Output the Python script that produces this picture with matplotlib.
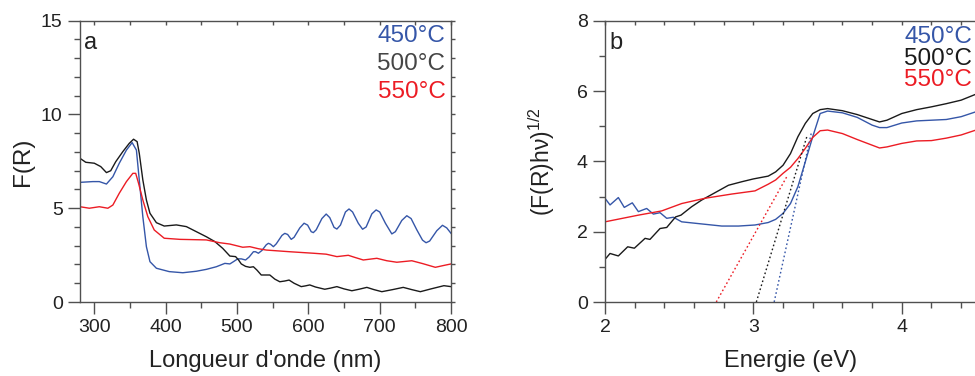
import numpy as np
import matplotlib
matplotlib.use('Agg')
import matplotlib.pyplot as plt
from matplotlib.ticker import MultipleLocator

plt.rcParams['font.family'] = ['Liberation Sans', 'DejaVu Sans']
plt.rcParams['mathtext.fontset'] = 'custom'
plt.rcParams['mathtext.rm'] = 'Liberation Sans'

# ---- panel a : F(R) vs longueur d'onde ----
wl_500 = [280, 288, 300, 309, 317, 323, 330, 340, 349, 355, 360, 363, 368, 373, 378, 387,
          398, 415, 429, 443, 457, 469, 480, 490, 498, 502, 506, 512, 518, 523, 528, 534,
          540, 546, 553, 560, 567, 573, 580, 590, 596, 602, 610, 623, 631, 640, 650, 661,
          671, 682, 692, 703, 718, 733, 745, 757, 772, 790, 800]
fr_500 = [7.66, 7.45, 7.4, 7.22, 6.9, 7.0, 7.48, 8.02, 8.46, 8.68, 8.55, 7.93, 6.51, 5.44, 4.73, 4.23,
          4.05, 4.11, 4.02, 3.75, 3.48, 3.22, 2.86, 2.45, 2.42, 2.25, 2.03, 1.9, 1.85, 1.88, 1.7, 1.44,
          1.44, 1.44, 1.22, 1.08, 1.12, 1.17, 1.0, 0.82, 0.86, 0.91, 0.8, 0.68, 0.74, 0.82, 0.7, 0.6,
          0.68, 0.78, 0.66, 0.55, 0.66, 0.78, 0.66, 0.55, 0.7, 0.87, 0.82]

wl_450 = [280, 298, 307, 317, 326, 335, 345, 353, 359, 363, 368, 373, 378, 387, 405, 424,
          443, 457, 471, 483, 490, 495, 501, 506, 512, 517, 523, 526, 530, 535, 541, 544,
          547, 551, 555, 563, 567, 571, 576, 580, 588, 594, 599, 604, 607, 611, 619, 625,
          630, 636, 640, 645, 652, 657, 662, 670, 676, 681, 689, 695, 700, 708, 717, 722,
          731, 738, 744, 752, 760, 765, 770, 780, 788, 794, 800]
fr_450 = [6.38, 6.42, 6.42, 6.29, 6.68, 7.4, 8.1, 8.5, 8.1, 6.51, 4.55, 2.95, 2.15, 1.8, 1.62, 1.56,
          1.64, 1.74, 1.88, 2.06, 2.03, 2.15, 2.3, 2.3, 2.24, 2.4, 2.68, 2.68, 2.6, 2.75, 3.05, 3.13,
          3.08, 2.95, 3.1, 3.55, 3.66, 3.6, 3.34, 3.45, 3.95, 4.2, 4.1, 3.75, 3.7, 3.85, 4.45, 4.69,
          4.5, 3.98, 3.89, 4.1, 4.8, 4.96, 4.8, 4.2, 3.88, 4.0, 4.7, 4.91, 4.8, 4.2, 3.63, 3.75,
          4.35, 4.6, 4.45, 3.85, 3.3, 3.16, 3.25, 3.8, 4.09, 3.95, 3.66]

wl_550 = [280, 293, 307, 319, 326, 335, 345, 354, 358, 362, 368, 375, 384, 398, 420, 457,
          476, 490, 508, 518, 530, 541, 574, 607, 625, 640, 656, 665, 677, 696, 710, 724,
          745, 760, 778, 790, 800]
fr_550 = [5.08, 5.0, 5.08, 5.0, 5.17, 5.8, 6.42, 6.86, 6.86, 6.33, 5.44, 4.55, 3.84, 3.4, 3.34, 3.31,
          3.16, 3.09, 2.92, 2.95, 2.84, 2.77, 2.68, 2.6, 2.55, 2.42, 2.49, 2.38, 2.24, 2.33, 2.2, 2.12,
          2.2, 2.05, 1.85, 1.95, 2.03]

# ---- panel b : (F(R)hv)^1/2 vs energie ----
e_500 = [2.0, 2.034, 2.09, 2.153, 2.198, 2.27, 2.303, 2.371, 2.416, 2.476, 2.512, 2.584, 2.652, 2.742,
         2.832, 2.922, 3.0, 3.1, 3.15, 3.2, 3.25, 3.3, 3.35, 3.4, 3.45, 3.5, 3.6, 3.7, 3.8, 3.85,
         3.9, 4.0, 4.1, 4.2, 4.3, 4.4, 4.5]
k_500 = [1.21, 1.38, 1.31, 1.57, 1.53, 1.81, 1.78, 2.09, 2.12, 2.42, 2.47, 2.71, 2.9, 3.11,
         3.32, 3.42, 3.5, 3.58, 3.7, 3.89, 4.22, 4.7, 5.08, 5.36, 5.47, 5.5, 5.44, 5.33, 5.19, 5.12,
         5.17, 5.36, 5.47, 5.55, 5.64, 5.74, 5.91]

e_450 = [2.0, 2.034, 2.09, 2.13, 2.184, 2.225, 2.281, 2.326, 2.371, 2.416, 2.461, 2.517, 2.584, 2.674,
         2.787, 2.9, 3.011, 3.1, 3.15, 3.2, 3.25, 3.3, 3.35, 3.4, 3.45, 3.5, 3.6, 3.7, 3.8, 3.85,
         3.9, 4.0, 4.1, 4.2, 4.3, 4.4, 4.5]
k_450 = [2.95, 2.76, 2.97, 2.69, 2.82, 2.57, 2.66, 2.5, 2.54, 2.38, 2.41, 2.28, 2.25, 2.21,
         2.16, 2.16, 2.19, 2.26, 2.35, 2.52, 2.8, 3.28, 3.99, 4.7, 5.36, 5.43, 5.38, 5.25, 5.03, 4.96,
         4.96, 5.09, 5.15, 5.17, 5.19, 5.27, 5.41]

e_550 = [2.0, 2.225, 2.382, 2.517, 2.674, 2.854, 3.011, 3.1, 3.15, 3.2, 3.25, 3.3, 3.35, 3.4,
         3.45, 3.5, 3.6, 3.7, 3.8, 3.85, 3.9, 4.0, 4.1, 4.2, 4.3, 4.4, 4.5]
k_550 = [2.28, 2.47, 2.59, 2.8, 2.95, 3.07, 3.16, 3.35, 3.47, 3.66, 3.83, 4.08, 4.37, 4.68,
         4.87, 4.89, 4.79, 4.62, 4.46, 4.38, 4.41, 4.51, 4.58, 4.59, 4.66, 4.75, 4.89]

# tangentes (extrapolation du gap) : [E0, E1], [y0, y1]
tan_450 = ([3.14, 3.39], [0.0, 4.8])
tan_500 = ([3.02, 3.36], [0.0, 4.7])
tan_550 = ([2.75, 3.23], [0.0, 3.6])

labels = ['450°C', '500°C', '550°C']
c_blue = '#3556a8'
c_black = '#1a1a1a'
c_red = '#ec1c24'
spine_c = '#505050'
txt_c = '#222222'


def style_axes(ax):
    for s in ax.spines.values():
        s.set_color(spine_c)
        s.set_linewidth(1.0)
    ax.tick_params(axis='both', which='major', direction='out', length=8.5, width=1.0,
                   color=spine_c, labelsize=14, labelcolor=txt_c, pad=4)
    ax.tick_params(axis='both', which='minor', direction='out', length=4.5, width=1.0,
                   color=spine_c)
    ax.tick_params(top=True, right=True, which='both')
    ax.xaxis.set_tick_params(which='both', labeltop=False)
    # petits ticks vers l'interieur en haut, vers l'exterieur a droite
    for t in ax.xaxis.get_major_ticks() + ax.xaxis.get_minor_ticks():
        t.tick2line.set_markersize(3)
        t.tick2line.set_marker(3)
    for t in ax.yaxis.get_major_ticks() + ax.yaxis.get_minor_ticks():
        t.tick2line.set_markersize(3)


fig = plt.figure(figsize=(9.75, 3.76), dpi=100)

# ----- a -----
ax1 = fig.add_axes([0.0821, 0.1968, 0.3805, 0.7482])
ax1.plot(wl_450, fr_450, color=c_blue, lw=1.0)
ax1.plot(wl_500, fr_500, color=c_black, lw=1.0)
ax1.plot(wl_550, fr_550, color=c_red, lw=1.0)
ax1.set_xlim(280, 800)
ax1.set_ylim(0, 15)
ax1.xaxis.set_major_locator(MultipleLocator(100))
ax1.xaxis.set_minor_locator(MultipleLocator(50))
ax1.yaxis.set_major_locator(MultipleLocator(5))
ax1.yaxis.set_minor_locator(MultipleLocator(1))
style_axes(ax1)
ax1.set_xlabel("Longueur d'onde (nm)", fontsize=17, color=txt_c, labelpad=10)
ax1.set_ylabel('F(R)', fontsize=17.5, color=txt_c, labelpad=5)
ax1.text(0.012, 0.92, 'a', transform=ax1.transAxes, fontsize=17, color=txt_c,
         va='center', ha='left')
for i, (lab, col) in enumerate(zip(labels, [c_blue, '#454545', c_red])):
    ax1.text(0.985, 0.946 - i * 0.1, lab, transform=ax1.transAxes, fontsize=17.5,
             color=col, ha='right', va='center')

# ----- b -----
ax2 = fig.add_axes([0.6205, 0.1968, 0.3805, 0.7482])
ax2.plot(e_450, k_450, color=c_blue, lw=1.0)
ax2.plot(e_500, k_500, color=c_black, lw=1.0)
ax2.plot(e_550, k_550, color=c_red, lw=1.0)
ax2.plot(*tan_450, color=c_blue, lw=1.0, ls=(0, (1.2, 1.8)))
ax2.plot(*tan_500, color=c_black, lw=1.0, ls=(0, (1.2, 1.8)))
ax2.plot(*tan_550, color=c_red, lw=1.0, ls=(0, (1.2, 1.8)))
ax2.set_xlim(2, 4.5)
ax2.set_ylim(0, 8)
ax2.xaxis.set_major_locator(MultipleLocator(1))
ax2.xaxis.set_minor_locator(MultipleLocator(0.2))
ax2.yaxis.set_major_locator(MultipleLocator(2))
ax2.yaxis.set_minor_locator(MultipleLocator(1))
style_axes(ax2)
ax2.set_xlabel('Energie (eV)', fontsize=17, color=txt_c, labelpad=10)
ax2.set_ylabel('(F(R)hν)$^{\\mathrm{1/2}}$', fontsize=16.5, color=txt_c, labelpad=14)
ax2.text(0.012, 0.92, 'b', transform=ax2.transAxes, fontsize=17, color=txt_c,
         va='center', ha='left')
for i, (lab, col) in enumerate(zip(labels, [c_blue, c_black, c_red])):
    ax2.text(0.99, 0.942 - i * 0.077, lab, transform=ax2.transAxes, fontsize=17.5,
             color=col, ha='right', va='center')

fig.savefig('out.png', dpi=100)
